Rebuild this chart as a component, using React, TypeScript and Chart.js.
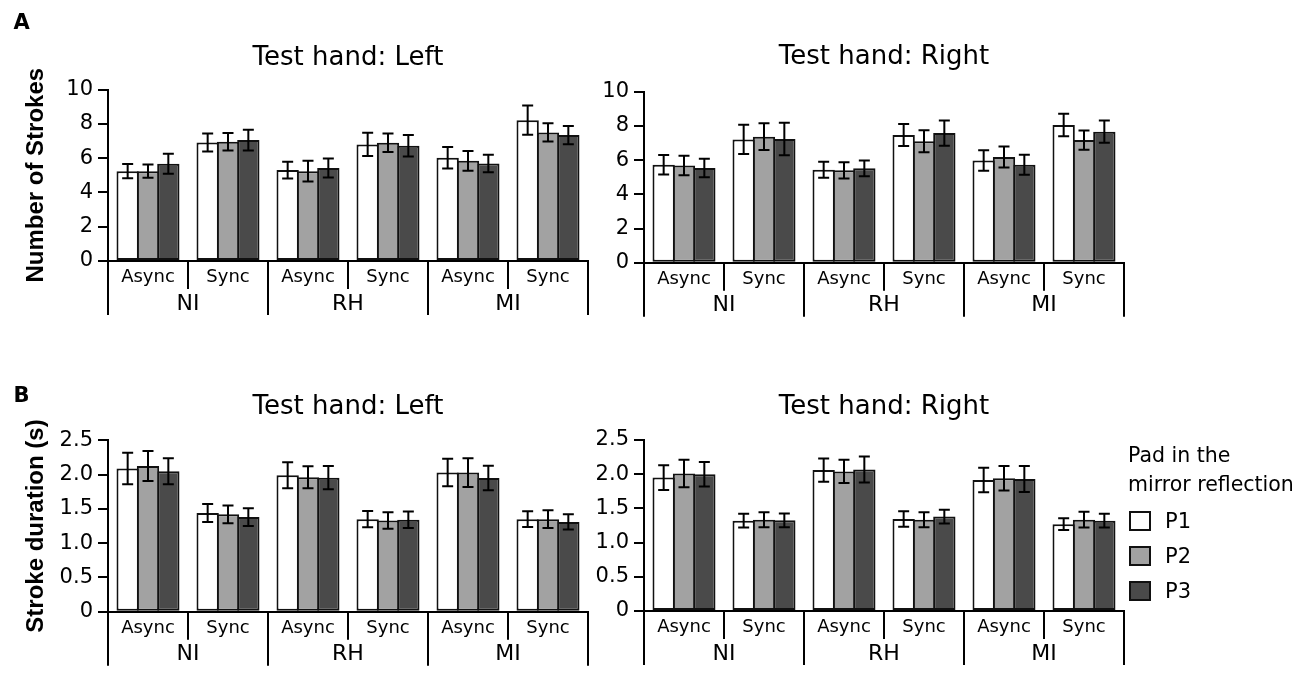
import { useEffect, useRef } from "react"
import { Chart, registerables, type Plugin } from "chart.js"

Chart.register(...registerables)

// categories
const groups = ["NI", "RH", "MI"]
const conditions = ["Async", "Sync", "Async", "Sync", "Async", "Sync"]
const pads = ["P1", "P2", "P3"]
const padColors = ["#ffffff", "#a2a2a2", "#4a4a4a"]
const legendTitle = ["Pad in the", "mirror reflection"]

// A: number of strokes, test hand left (NI-Async, NI-Sync, RH-Async, RH-Sync, MI-Async, MI-Sync)
const strokesLeftP1 = [5.24, 6.91, 5.3, 6.8, 6.02, 8.21]
const strokesLeftP2 = [5.24, 6.95, 5.24, 6.89, 5.84, 7.5]
const strokesLeftP3 = [5.67, 7.05, 5.42, 6.72, 5.69, 7.34]
const strokesLeftErrP1 = [0.42, 0.52, 0.49, 0.68, 0.63, 0.85]
const strokesLeftErrP2 = [0.39, 0.51, 0.61, 0.54, 0.58, 0.53]
const strokesLeftErrP3 = [0.58, 0.6, 0.55, 0.62, 0.51, 0.53]

// A: number of strokes, test hand right
const strokesRightP1 = [5.73, 7.21, 5.44, 7.47, 5.98, 8.05]
const strokesRightP2 = [5.69, 7.37, 5.4, 7.1, 6.18, 7.17]
const strokesRightP3 = [5.54, 7.23, 5.52, 7.58, 5.73, 7.66]
const strokesRightErrP1 = [0.57, 0.85, 0.47, 0.64, 0.6, 0.66]
const strokesRightErrP2 = [0.57, 0.78, 0.48, 0.64, 0.61, 0.56]
const strokesRightErrP3 = [0.54, 0.95, 0.46, 0.74, 0.59, 0.65]

// B: stroke duration (s), test hand left
const durationLeftP1 = [2.09, 1.44, 1.99, 1.35, 2.03, 1.35]
const durationLeftP2 = [2.125, 1.42, 1.96, 1.33, 2.03, 1.35]
const durationLeftP3 = [2.05, 1.38, 1.955, 1.34, 1.95, 1.31]
const durationLeftErrP1 = [0.23, 0.13, 0.19, 0.12, 0.2, 0.115]
const durationLeftErrP2 = [0.22, 0.13, 0.16, 0.12, 0.21, 0.13]
const durationLeftErrP3 = [0.19, 0.13, 0.17, 0.12, 0.18, 0.11]

// B: stroke duration (s), test hand right
const durationRightP1 = [1.95, 1.32, 2.06, 1.345, 1.915, 1.27]
const durationRightP2 = [2.01, 1.335, 2.04, 1.335, 1.94, 1.335]
const durationRightP3 = [2.0, 1.325, 2.07, 1.38, 1.93, 1.32]
const durationRightErrP1 = [0.18, 0.1, 0.17, 0.115, 0.18, 0.085]
const durationRightErrP2 = [0.2, 0.11, 0.17, 0.11, 0.18, 0.115]
const durationRightErrP3 = [0.18, 0.1, 0.19, 0.1, 0.19, 0.1]

Chart.defaults.font.family = "'DejaVu Sans', sans-serif"
Chart.defaults.color = "#000"

const FONT = "'DejaVu Sans', sans-serif"
const TITLE_SIZE = 26

interface Rect { x: number; y: number; w: number; h: number }
interface Plot { l: number; t: number; r: number; b: number }

interface ExtrasOptions {
  letter?: string
  letterPos?: [number, number]
  legend?: boolean
}

// error bars, two-level x axis, panel letter and legend
const extrasPlugin: Plugin<"bar"> = {
  id: "extras",
  afterDatasetsDraw(chart) {
    const { ctx } = chart
    const ys = chart.scales.y
    ctx.save()
    ctx.strokeStyle = "#000"
    ctx.lineWidth = 2
    chart.data.datasets.forEach((ds: any, di) => {
      const meta = chart.getDatasetMeta(di)
      meta.data.forEach((bar: any, i) => {
        const v = ds.data[i] as number
        const e = ds.errors[i] as number
        const top = ys.getPixelForValue(v + e)
        const bot = ys.getPixelForValue(v - e)
        ctx.beginPath()
        ctx.moveTo(bar.x, top)
        ctx.lineTo(bar.x, bot)
        ctx.moveTo(bar.x - 5.5, top)
        ctx.lineTo(bar.x + 5.5, top)
        ctx.moveTo(bar.x - 5.5, bot)
        ctx.lineTo(bar.x + 5.5, bot)
        ctx.stroke()
      })
    })
    ctx.restore()
  },
  afterDraw(chart, _args, opts: ExtrasOptions) {
    const { ctx, chartArea } = chart
    const xs = chart.scales.x
    const n = xs.ticks.length
    const edges: number[] = [xs.left]
    for (let i = 1; i < n; i++) edges.push((xs.getPixelForTick(i - 1) + xs.getPixelForTick(i)) / 2)
    edges.push(xs.right)
    const bottom = chartArea.bottom
    ctx.save()
    ctx.strokeStyle = "#000"
    ctx.lineWidth = 2
    edges.forEach((x, i) => {
      const len = i % 2 === 0 ? 54 : 28
      ctx.beginPath()
      ctx.moveTo(x, bottom)
      ctx.lineTo(x, bottom + len)
      ctx.stroke()
    })
    ctx.fillStyle = "#000"
    ctx.font = `22px ${FONT}`
    ctx.textAlign = "center"
    ctx.textBaseline = "middle"
    groups.forEach((g, gi) => {
      ctx.fillText(g, (edges[gi * 2] + edges[gi * 2 + 2]) / 2, bottom + 43)
    })
    if (opts.letter && opts.letterPos) {
      ctx.font = `bold 21px ${FONT}`
      ctx.textAlign = "left"
      ctx.fillText(opts.letter, opts.letterPos[0], opts.letterPos[1])
    }
    if (opts.legend) {
      const x0 = chartArea.right + 4
      ctx.font = `20.5px ${FONT}`
      ctx.textAlign = "left"
      legendTitle.forEach((line, i) => ctx.fillText(line, x0, chartArea.top + 17 + i * 29))
      ctx.font = `21px ${FONT}`
      chart.data.datasets.forEach((ds: any, i) => {
        const cy = chartArea.top + 81 + i * 35
        ctx.fillStyle = ds.backgroundColor
        ctx.fillRect(x0 + 1, cy - 10, 22, 20)
        ctx.strokeStyle = "#111"
        ctx.lineWidth = 2
        ctx.strokeRect(x0 + 2, cy - 9, 20, 18)
        ctx.fillStyle = "#000"
        ctx.fillText(ds.label, x0 + 37, cy + 1.5)
      })
    }
    ctx.restore()
  },
}

interface PanelProps {
  canvas: Rect
  plot: Plot
  titleY: number
  title: string
  yTitle?: string
  yMax: number
  yStep: number
  decimals: number
  means: number[][]
  errors: number[][]
  extras: ExtrasOptions
}

function Panel({ canvas, plot, titleY, title, yTitle, yMax, yStep, decimals, means, errors, extras }: PanelProps) {
  const canvasRef = useRef<HTMLCanvasElement>(null)
  const chartRef = useRef<Chart | null>(null)

  useEffect(() => {
    if (!canvasRef.current) return
    if (chartRef.current) chartRef.current.destroy()

    const lineH = TITLE_SIZE * 1.2
    const titleTop = titleY - canvas.y - lineH / 2
    const titleBottom = plot.t - canvas.y - titleTop - lineH
    const yWidth = plot.l - canvas.x
    const xHeight = canvas.y + canvas.h - plot.b

    chartRef.current = new Chart(canvasRef.current, {
      type: "bar",
      data: {
        labels: conditions,
        datasets: pads.map((p, i) => ({
          label: p,
          data: means[i],
          errors: errors[i],
          backgroundColor: padColors[i],
          borderColor: "#111",
          borderWidth: 2,
          borderSkipped: false,
          categoryPercentage: 0.7625,
          barPercentage: 1.098,
        })) as any,
      },
      options: {
        responsive: false,
        animation: false,
        events: [],
        layout: { padding: { left: 0, top: 0, bottom: 0, right: canvas.x + canvas.w - plot.r } },
        plugins: {
          legend: { display: false },
          tooltip: { enabled: false },
          title: {
            display: true,
            text: title,
            fullSize: false,
            color: "#000",
            font: { family: FONT, size: TITLE_SIZE, weight: "normal" },
            padding: { top: titleTop, bottom: titleBottom },
          },
          extras,
        } as any,
        scales: {
          x: {
            afterFit: (s: any) => { s.height = xHeight },
            grid: { display: false, drawTicks: false },
            border: { display: true, color: "#000", width: 2 },
            ticks: { color: "#000", font: { family: FONT, size: 18 }, padding: 6, maxRotation: 0, autoSkip: false },
          },
          y: {
            min: 0,
            max: yMax,
            afterFit: (s: any) => { s.width = yWidth },
            grid: { display: true, drawOnChartArea: false, drawTicks: true, tickLength: 10, color: "#000", lineWidth: 2 },
            border: { display: true, color: "#000", width: 2 },
            ticks: {
              stepSize: yStep,
              color: "#000",
              padding: 5,
              font: { family: FONT, size: 21 },
              callback: (v: any) => (v === 0 ? "0" : Number(v).toFixed(decimals)),
            },
            title: {
              display: !!yTitle,
              text: yTitle ?? "",
              color: "#000",
              font: { family: "'Liberation Sans', Arial, sans-serif", size: 24, weight: "bold" },
              padding: { top: 22, bottom: 0 },
            },
          },
        },
      },
      plugins: [extrasPlugin],
    })

    return () => {
      if (chartRef.current) {
        chartRef.current.destroy()
        chartRef.current = null
      }
    }
  }, [])

  return (
    <canvas
      ref={canvasRef}
      width={canvas.w}
      height={canvas.h}
      style={{ position: "absolute", left: canvas.x, top: canvas.y, width: canvas.w, height: canvas.h }}
    />
  )
}

export default function App() {
  return (
    <div style={{ position: "absolute", left: 0, top: 0, width: 1300, height: 674, background: "#fff", overflow: "hidden" }}>
      <Panel
        canvas={{ x: 0, y: 0, w: 600, h: 330 }}
        plot={{ l: 108, t: 89.5, r: 588, b: 261 }}
        titleY={58}
        title="Test hand: Left"
        yTitle="Number of Strokes"
        yMax={10}
        yStep={2}
        decimals={0}
        means={[strokesLeftP1, strokesLeftP2, strokesLeftP3]}
        errors={[strokesLeftErrP1, strokesLeftErrP2, strokesLeftErrP3]}
        extras={{ letter: "A", letterPos: [13.5, 24] }}
      />
      <Panel
        canvas={{ x: 590, y: 0, w: 546, h: 330 }}
        plot={{ l: 644, t: 91.7, r: 1124, b: 262.7 }}
        titleY={57.5}
        title="Test hand: Right"
        yMax={10}
        yStep={2}
        decimals={0}
        means={[strokesRightP1, strokesRightP2, strokesRightP3]}
        errors={[strokesRightErrP1, strokesRightErrP2, strokesRightErrP3]}
        extras={{}}
      />
      <Panel
        canvas={{ x: 0, y: 340, w: 600, h: 334 }}
        plot={{ l: 108, t: 440.3, r: 588, b: 611.7 }}
        titleY={407.5}
        title="Test hand: Left"
        yTitle="Stroke duration (s)"
        yMax={2.5}
        yStep={0.5}
        decimals={1}
        means={[durationLeftP1, durationLeftP2, durationLeftP3]}
        errors={[durationLeftErrP1, durationLeftErrP2, durationLeftErrP3]}
        extras={{ letter: "B", letterPos: [13.5, 56.5] }}
      />
      <Panel
        canvas={{ x: 590, y: 340, w: 710, h: 334 }}
        plot={{ l: 644, t: 440, r: 1124, b: 611 }}
        titleY={407.5}
        title="Test hand: Right"
        yMax={2.5}
        yStep={0.5}
        decimals={1}
        means={[durationRightP1, durationRightP2, durationRightP3]}
        errors={[durationRightErrP1, durationRightErrP2, durationRightErrP3]}
        extras={{ legend: true }}
      />
    </div>
  )
}
